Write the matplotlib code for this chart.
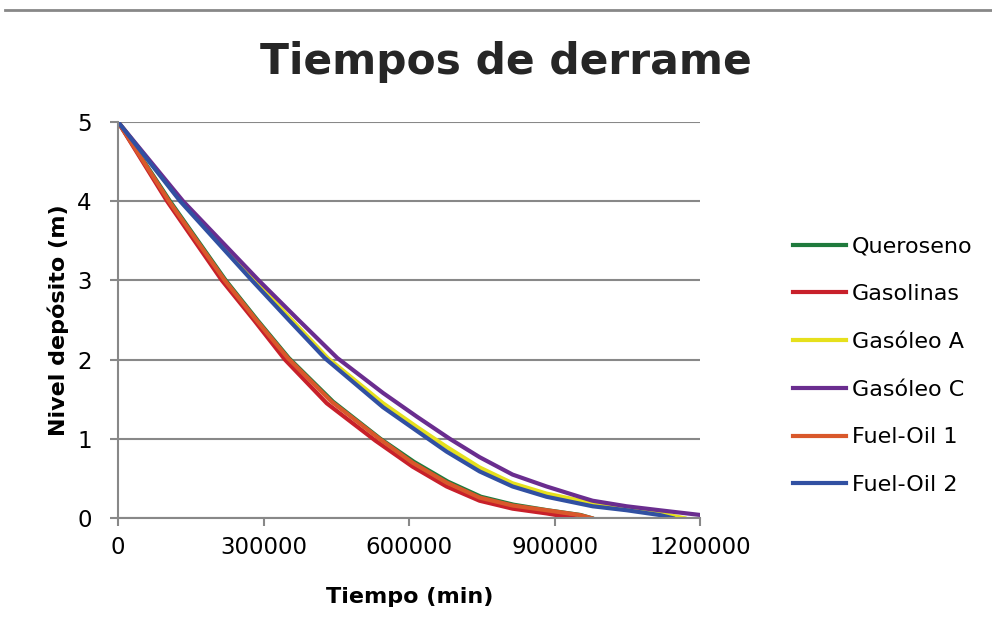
import matplotlib
matplotlib.use("Agg")
import matplotlib.pyplot as plt
from matplotlib.lines import Line2D

# tiempo (min) / nivel (m)
queroseno_t = [0, 107000, 222000, 287000, 352000, 443000, 541000, 610000, 680000, 748000, 815000, 885000, 953000, 976000]
queroseno_h = [5, 4, 3, 2.5, 2.02, 1.47, 1.0, 0.71, 0.46, 0.27, 0.17, 0.10, 0.04, 0.0]

gasolinas_t = [0, 101000, 214000, 280000, 344000, 430000, 530000, 607000, 677000, 745000, 813000, 883000, 941000]
gasolinas_h = [5, 4, 3, 2.5, 2.0, 1.45, 0.98, 0.65, 0.40, 0.22, 0.12, 0.06, 0.0]

gasoleo_a_t = [0, 130000, 282000, 358000, 432000, 546000, 616000, 677000, 745000, 813000, 883000, 978000, 1048000, 1116000, 1167000]
gasoleo_a_h = [5, 4, 3, 2.5, 2.02, 1.45, 1.15, 0.90, 0.64, 0.44, 0.31, 0.19, 0.12, 0.06, 0.0]

gasoleo_c_t = [0, 134000, 290000, 372000, 452000, 546000, 616000, 684000, 745000, 813000, 883000, 951000, 978000, 1048000, 1116000, 1200000]
gasoleo_c_h = [5, 4, 3, 2.5, 2.02, 1.58, 1.28, 1.0, 0.77, 0.55, 0.40, 0.27, 0.22, 0.15, 0.10, 0.04]

fuel1_t = [0, 105000, 220000, 285000, 350000, 440000, 539000, 607000, 677000, 745000, 813000, 883000, 951000, 976000]
fuel1_h = [5, 4, 3, 2.5, 2.02, 1.47, 1.0, 0.70, 0.45, 0.26, 0.16, 0.10, 0.04, 0.0]

fuel2_t = [0, 128000, 276000, 352000, 426000, 546000, 616000, 677000, 745000, 813000, 883000, 978000, 1048000, 1116000, 1143000]
fuel2_h = [5, 4, 3, 2.5, 2.02, 1.40, 1.10, 0.84, 0.59, 0.40, 0.27, 0.15, 0.10, 0.04, 0.0]

series = [
    ("Queroseno", queroseno_t, queroseno_h, "#1f7a3c"),
    ("Gasolinas", gasolinas_t, gasolinas_h, "#c8202a"),
    ("Gasóleo A", gasoleo_a_t, gasoleo_a_h, "#e6e01c"),
    ("Gasóleo C", gasoleo_c_t, gasoleo_c_h, "#6a2d8f"),
    ("Fuel-Oil 1", fuel1_t, fuel1_h, "#d9582b"),
    ("Fuel-Oil 2", fuel2_t, fuel2_h, "#3150a2"),
]

x_ticks = [0, 300000, 600000, 900000, 1200000]
y_ticks = [0, 1, 2, 3, 4, 5]

fig = plt.figure(figsize=(9.92, 6.35), dpi=100)
ax = fig.add_axes([0.119, 0.184, 0.587, 0.624])

for nombre, t, h, color in series:
    ax.plot(t, h, color=color, lw=3, label=nombre, solid_joinstyle="round")

gris = "#888888"
ax.set_xlim(0, 1200000)
ax.set_ylim(0, 5)
ax.set_xticks(x_ticks)
ax.set_xticklabels([str(v) for v in x_ticks])
ax.set_yticks(y_ticks)
ax.grid(axis="y", color=gris, lw=1.5)
ax.set_axisbelow(True)
for s in ["top", "right"]:
    ax.spines[s].set_visible(False)
for s in ["left", "bottom"]:
    ax.spines[s].set_color(gris)
    ax.spines[s].set_linewidth(1.5)
ax.tick_params(direction="out", length=6, width=1.5, color=gris, labelsize=16.5)
ax.tick_params(axis="x", pad=7)
ax.tick_params(axis="y", pad=13)

ax.set_xlabel("Tiempo (min)", fontsize=16, fontweight="bold", labelpad=20)
ax.set_ylabel("Nivel depósito (m)", fontsize=16, fontweight="bold", labelpad=6)
fig.text(0.51, 0.902, "Tiempos de derrame", ha="center", va="center",
         fontsize=30.5, fontweight="bold", color="#262626")

# linea gris superior
fig.add_artist(Line2D([0.005, 1.0], [0.985, 0.985], color=gris, lw=2))

handles = [Line2D([], [], color=c, lw=3) for _, _, _, c in series]
fig.legend(handles, [n for n, _, _, _ in series], loc="center left",
           bbox_to_anchor=(0.799, 0.424), frameon=False, fontsize=16,
           borderpad=0, borderaxespad=0,
           handlelength=2.4, handletextpad=0.27, labelspacing=1.25)

fig.savefig("out.png", dpi=100)
